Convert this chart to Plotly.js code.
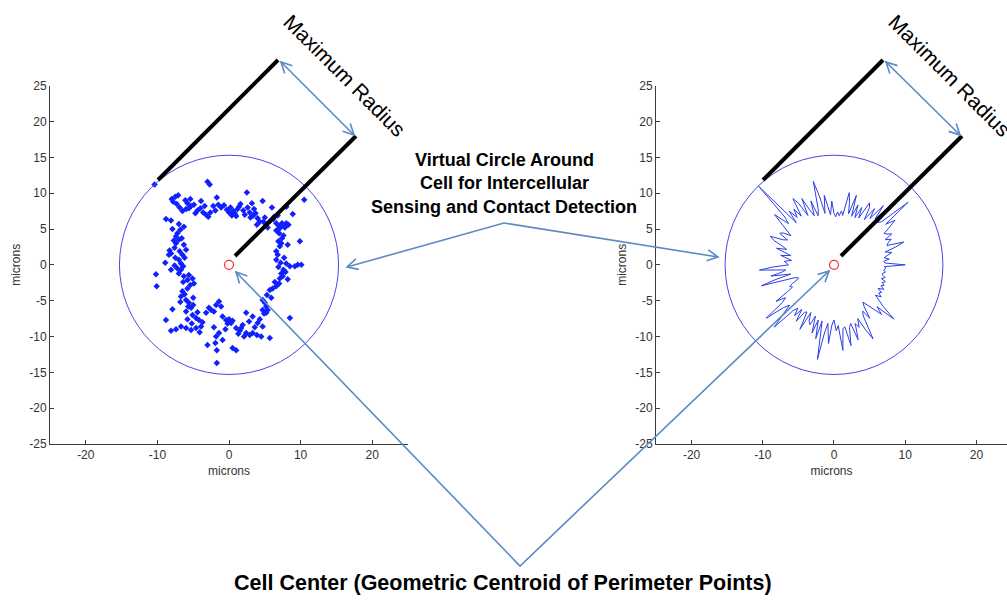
<!DOCTYPE html>
<html>
<head>
<meta charset="utf-8">
<script src="https://cdn.plot.ly/plotly-3.0.1.min.js"></script>
<style>html,body{margin:0;padding:0;background:#fff;}#chart{width:1007px;height:601px;}</style>
</head>
<body>
<div id="chart"></div>
<script>
// ---------- data ----------
// Left panel: perimeter points (microns)
const perimeterX = [
 -10.4,-3.0,-2.7,
 -8.0,-7.5,-7.1,-7.8,-7.3,-6.9,-8.8,-8.1,
 -5.4,-5.8,-5.3,-4.9,-4.4,-4.0,-3.6,-3.2,-2.9,-2.6,-2.2,-1.7,-1.5,-1.1,-0.7,-0.3,0.0,0.4,0.8,1.2,1.6,2.0,2.2,2.5,2.6,2.9,3.2,3.5,3.7,4.0,4.3,4.7,4.8,5.2,5.4,6.0,6.3,6.6,7.0,7.4,8.0,8.3,8.9,10.5,
 -6.5,-6.0,-4.7,-3.4,-1.9,0.2,1.0,3.0,3.9,5.8,6.8,7.8,
 -7.0,-6.3,-7.2,-7.4,-7.0,-7.4,-6.3,-6.0,-6.5,-8.1,-8.4,-7.0,-6.7,-7.2,-6.7,-7.0,-6.3,-5.8,-5.1,-4.9,-5.8,-6.5,-6.7,-6.0,-5.6,-5.3,-6.0,-7.9,-8.8,-8.9,-10.2,-10.1,-8.1,
 -6.8,-7.6,-6.9,-7.5,-6.4,-7.6,-5.6,-5.4,-6.2,-5.0,-5.0,-5.7,-6.8,-8.3,-7.9,-6.6,-6.2,
 -5.1,-4.6,-4.2,-3.7,-3.9,-4.6,-5.3,-6.0,-6.7,-7.4,-8.1,-3.2,-2.5,-1.8,-1.4,-1.1,-2.1,-2.1,-1.4,-0.9,-1.8,-3.0,-1.9,-1.7,-1.7,0.0,0.5,0.3,1.0,1.7,2.4,2.1,2.9,3.3,0.5,1.0,2.4,3.3,4.0,4.7,5.7,8.5,5.2,4.7,
 -0.4,-0.2,1.3,1.9,3.6,4.3,2.8,-2.8,-0.5,3.9,-4.4,-5.8,4.5,
 4.7,5.0,5.2,5.4,5.7,6.1,6.6,7.0,7.1,7.3,7.6,6.6,6.8,6.6,7.1,7.3,7.4,7.0,7.1,8.0,8.5,9.2,9.6,10.1,9.9,8.2,7.8,8.0,
 5.3,6.4,6.9,7.2,7.7,6.9,7.6,7.5,8.2,5.9,6.6,4.9,
 -6.1,-5.6,-7.7,-6.4,-3.9,0.6,1.4,3.4,5.0,-5.2,-4.1,6.2,7.9,-0.9,1.5
];
const perimeterY = [
 11.2,11.6,11.2,
 9.2,9.5,9.7,8.8,8.5,8.0,6.4,6.2,
 9.2,8.6,8.2,8.4,7.6,7.9,7.3,7.0,6.7,7.3,8.2,9.4,8.4,8.0,8.3,7.7,7.3,6.9,7.2,7.8,8.5,7.6,7.0,10.1,8.0,7.3,8.6,7.8,7.2,6.5,6.0,8.9,6.0,5.7,5.2,8.0,6.7,5.8,5.4,5.8,8.1,5.6,7.1,9.1,
 7.5,7.8,7.2,8.2,7.6,8.0,6.8,6.6,5.6,6.2,6.9,5.2,
 5.7,5.3,4.4,4.0,3.5,3.0,2.8,2.1,1.4,1.6,1.4,0.7,0.2,-0.5,-0.7,-1.2,-1.6,-2.1,-1.9,-2.6,-3.3,-3.7,-4.4,-4.9,-5.3,-6.0,-6.5,-6.2,-7.7,0.3,-1.3,-3.0,-0.7,
 4.9,2.4,1.9,1.0,-0.2,-0.1,-1.4,-2.8,-4.1,-4.6,-5.6,-5.8,-5.2,2.0,5.0,3.7,1.0,
 -7.0,-7.4,-7.7,-8.0,-8.6,-8.8,-9.1,-8.8,-8.6,-9.0,-9.2,-6.7,-6.3,-5.6,-5.1,-5.8,-6.5,-8.7,-9.5,-10.5,-10.0,-11.2,-10.9,-11.9,-13.7,-7.6,-7.8,-8.1,-8.8,-8.8,-9.5,-10.0,-9.8,-9.5,-11.6,-11.9,-6.7,-7.2,-8.1,-8.6,-10.2,-7.4,-6.7,-6.3,
 -7.7,-8.2,-9.6,-8.4,-8.7,-7.6,-7.9,-6.0,-9.0,-9.8,-6.6,-7.6,-10.0,
 -4.9,-5.3,-5.8,-6.3,-3.5,-3.3,-3.0,-2.6,-1.9,-1.2,-0.7,0.7,1.4,1.9,2.6,3.0,3.7,4.4,5.1,0.2,-0.2,-0.2,0.0,0.0,3.3,2.8,5.3,5.8,
 -4.2,-2.4,-0.3,0.3,1.0,3.3,4.1,-1.6,-2.0,-4.6,4.8,-6.8,
 9.0,7.9,3.4,-2.4,8.9,7.5,8.1,6.9,6.6,-8.2,-9.4,6.4,-1.0,-7.2,-9.2
];
// Right panel: traced outline, radius (microns) by polar angle (degrees)
const outlineAngleDeg = [0,2,4,6,8,10,12,14,16,18,20,22,24,26,28,30,32,34,36,38,40,42,44,46,48,50,52,54,56,58,60,62,64,66,68,70,72,74,76,78,80,82,84,86,88,90,92,94,96,98,100,102,104,106,108,110,112,114,116,118,120,122,124,126,128,130,132,134,136,138,140,142,144,146,148,150,152,154,156,158,160,162,164,166,168,170,172,174,176,178,180,182,184,186,188,190,192,194,196,198,200,202,204,206,208,210,212,214,216,218,220,222,224,226,228,230,232,234,236,238,240,242,244,246,248,250,252,254,256,258,260,262,264,266,268,270,272,274,276,278,280,282,284,286,288,290,292,294,296,298,300,302,304,306,308,310,312,314,316,318,320,322,324,326,328,330,332,334,336,338,340,342,344,346,348,350,352,354,356,358,360];
const outlineRadius = [10.0,7.2,7.0,7.8,7.1,7.6,8.3,7.4,9.0,10.3,7.9,8.2,8.8,8.0,9.2,8.6,8.3,9.4,10.6,9.2,13.6,9.0,8.5,11.8,8.6,10.8,8.2,9.7,7.6,9.4,10.0,7.4,8.9,7.2,9.0,7.2,10.2,7.4,9.0,10.3,7.0,7.6,6.9,7.4,6.7,7.2,8.9,7.0,8.2,9.8,7.3,9.7,12.0,8.0,7.2,9.5,7.4,8.4,10.3,7.8,9.9,10.9,8.2,9.6,8.4,9.8,7.9,15.2,9.6,8.6,10.9,9.4,8.0,7.3,8.4,8.8,7.4,8.0,9.8,9.1,7.8,7.0,8.4,7.2,6.2,7.6,6.6,6.0,7.0,6.6,6.4,8.6,10.5,6.8,7.4,9.0,6.2,8.4,10.6,5.8,5.3,5.6,6.4,6.9,6.6,7.6,9.6,8.2,9.0,12.1,9.3,8.4,9.8,12.1,8.6,7.9,9.0,7.7,9.5,7.8,7.6,10.2,7.4,8.6,9.0,7.6,10.0,8.0,10.6,8.0,13.4,9.6,8.2,11.0,8.4,7.7,9.2,8.5,12.0,9.0,8.8,11.5,9.0,8.5,11.0,8.7,9.4,8.2,10.0,11.7,8.2,7.6,9.0,7.2,6.6,7.4,8.6,9.6,8.4,11.3,9.0,8.0,7.2,8.0,7.4,7.7,7.0,7.8,7.2,7.6,7.2,7.6,6.9,7.4,7.0,6.9,7.3,7.0,7.3,7.1,10.0];
// Cell centres (geometric centroid) and virtual circle radius
const centroidX = [0.0, 0.0];
const centroidY = [0.0, 0.0];
const virtualRadius = [15.3, 15.3];
// Axis ticks
const xTickVals = [-20,-10,0,10,20];
const xTickText = ['-20','-10','0','10','20'];
const yTickVals = [-25,-20,-15,-10,-5,0,5,10,15,20,25];
const yTickText = ['-25','-20','-15','-10','-5','0','5','10','15','20','25'];

// ---------- helpers for annotation graphics (pixel -> paper) ----------
const W = 1007, H = 601;
const px = x => x / W, py = y => 1 - y / H;
function seg(pts){ return 'M ' + pts.map(p => px(p[0]).toFixed(5) + ' ' + py(p[1]).toFixed(5)).join(' L '); }
function head(tip, from, len, ang){
  len = len || 12; ang = (ang || 27) * Math.PI/180;
  const dx = from[0]-tip[0], dy = from[1]-tip[1], d = Math.hypot(dx,dy);
  const ux = dx/d, uy = dy/d;
  const r = a => [tip[0] + len*(ux*Math.cos(a) - uy*Math.sin(a)), tip[1] + len*(ux*Math.sin(a) + uy*Math.cos(a))];
  return seg([r(ang), tip, r(-ang)]);
}
const arrowCol = '#5b8bc2';
function arrowShapes(poly){
  const s = [{type:'path', xref:'paper', yref:'paper', path: seg(poly), line:{color:arrowCol, width:1.6}}];
  s.push({type:'path', xref:'paper', yref:'paper', path: head(poly[0], poly[1]), line:{color:arrowCol, width:1.6}});
  const n = poly.length;
  s.push({type:'path', xref:'paper', yref:'paper', path: head(poly[n-1], poly[n-2]), line:{color:arrowCol, width:1.6}});
  return s;
}
function blackLine(a, b){ return {type:'path', xref:'paper', yref:'paper', path: seg([a,b]), line:{color:'#000', width:4}}; }

// ---------- traces ----------
const outlineX = outlineAngleDeg.map((a,i) => outlineRadius[i]*Math.cos(a*Math.PI/180));
const outlineY = outlineAngleDeg.map((a,i) => outlineRadius[i]*Math.sin(a*Math.PI/180));

const traces = [
  {type:'scatter', mode:'markers', x: perimeterX, y: perimeterY, xaxis:'x', yaxis:'y',
   marker:{symbol:'diamond', size:5, color:'#1020ff'}, hoverinfo:'skip'},
  {type:'scatter', mode:'markers', x:[centroidX[0]], y:[centroidY[0]], xaxis:'x', yaxis:'y',
   marker:{symbol:'circle-open', size:9, color:'#ff2a2a', line:{width:1.2}}, hoverinfo:'skip'},
  {type:'scatter', mode:'lines', x: outlineX, y: outlineY, xaxis:'x2', yaxis:'y2',
   line:{color:'#2c3fe6', width:1}, hoverinfo:'skip'},
  {type:'scatter', mode:'markers', x:[centroidX[1]], y:[centroidY[1]], xaxis:'x2', yaxis:'y2',
   marker:{symbol:'circle-open', size:9, color:'#ff2a2a', line:{width:1.2}}, hoverinfo:'skip'}
];

const font = 'Liberation Sans, Arial, sans-serif';
const axCol = '#3c3c3c';
function xAxis(domain, range){
  return {domain, range, showline:true, linecolor:axCol, linewidth:1, ticks:'inside', ticklen:4, tickcolor:axCol,
    showgrid:false, zeroline:false, tickvals:xTickVals, ticktext:xTickText, fixedrange:true,
    tickfont:{family:font, size:12, color:'#333'}, title:{text:'microns', font:{family:font, size:12, color:'#333'}, standoff:5}};
}
function yAxis(domain, anchor){
  return {domain, range:[-25,25], anchor, showline:true, linecolor:axCol, linewidth:1, ticks:'inside', ticklen:4, tickcolor:axCol,
    showgrid:false, zeroline:false, tickvals:yTickVals, ticktext:yTickText, fixedrange:true,
    tickfont:{family:font, size:12, color:'#333'}, title:{text:'microns', font:{family:font, size:12, color:'#333'}, standoff:6}};
}
const yDom = [py(444), py(85.7)];

const shapes = [
  {type:'circle', xref:'x', yref:'y', x0:-virtualRadius[0], x1:virtualRadius[0], y0:-virtualRadius[0], y1:virtualRadius[0], line:{color:'#4545f0', width:1}},
  {type:'circle', xref:'x2', yref:'y2', x0:-virtualRadius[1], x1:virtualRadius[1], y0:-virtualRadius[1], y1:virtualRadius[1], line:{color:'#4545f0', width:1}},
  blackLine([158,180],[278,60]), blackLine([235,256],[356,136]),
  blackLine([763,180],[883,60]), blackLine([841,256],[962,136]),
  ...arrowShapes([[281,62],[354,135]]),
  ...arrowShapes([[886,62],[960,135]]),
  ...arrowShapes([[347,267],[504,223],[718,257]]),
  ...arrowShapes([[236,272],[520,566],[829,271]])
];

const annotations = [
  {xref:'paper', yref:'paper', x:px(345), y:py(75), text:'Maximum Radius', showarrow:false, textangle:45,
   font:{family:font, size:21, color:'#000'}, xanchor:'center', yanchor:'middle'},
  {xref:'paper', yref:'paper', x:px(950), y:py(75), text:'Maximum Radius', showarrow:false, textangle:45,
   font:{family:font, size:21, color:'#000'}, xanchor:'center', yanchor:'middle'},
  {xref:'paper', yref:'paper', x:px(504), y:py(160), text:'<b>Virtual Circle Around</b>', showarrow:false,
   font:{family:font, size:18, color:'#000'}, xanchor:'center', yanchor:'middle'},
  {xref:'paper', yref:'paper', x:px(504), y:py(183.5), text:'<b>Cell for Intercellular</b>', showarrow:false,
   font:{family:font, size:18, color:'#000'}, xanchor:'center', yanchor:'middle'},
  {xref:'paper', yref:'paper', x:px(504), y:py(207), text:'<b>Sensing and Contact Detection</b>', showarrow:false,
   font:{family:font, size:18, color:'#000'}, xanchor:'center', yanchor:'middle'},
  {xref:'paper', yref:'paper', x:px(503), y:py(583), text:'<b>Cell Center (Geometric Centroid of Perimeter Points)</b>', showarrow:false,
   font:{family:font, size:21.5, color:'#000'}, xanchor:'center', yanchor:'middle'}
];

const layout = {
  width:W, height:H, margin:{l:0, r:0, t:0, b:0}, showlegend:false,
  paper_bgcolor:'#fff', plot_bgcolor:'rgba(0,0,0,0)',
  xaxis: Object.assign(xAxis([px(50), px(408)], [-25,25]), {anchor:'y'}),
  yaxis: yAxis(yDom, 'x'),
  xaxis2: Object.assign(xAxis([px(656), 1], [-25,24.3]), {anchor:'y2'}),
  yaxis2: yAxis(yDom, 'x2'),
  shapes, annotations
};

Plotly.newPlot('chart', traces, layout, {staticPlot:true, displayModeBar:false});
</script>
</body>
</html>
